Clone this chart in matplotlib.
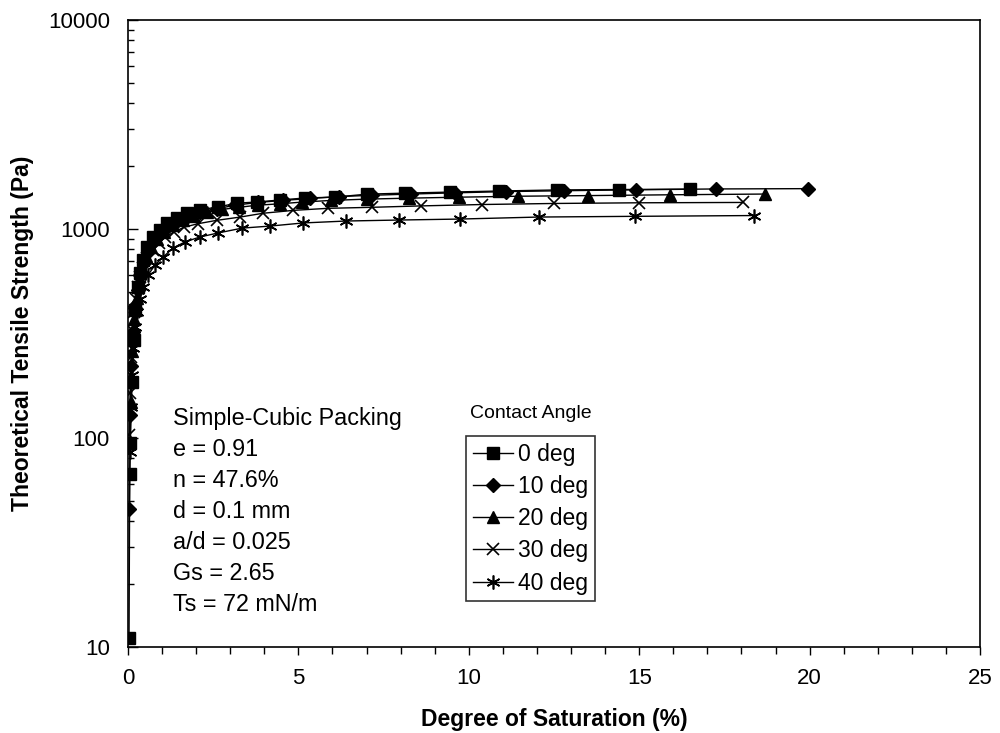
import matplotlib
matplotlib.use('Agg')
import matplotlib.pyplot as plt
from matplotlib.ticker import MultipleLocator, LogLocator, NullFormatter, FixedLocator

plt.rcParams['font.family'] = ['Liberation Sans', 'DejaVu Sans']

# Degree of saturation (%) vs theoretical tensile strength (Pa)
sat_0 = [0.03, 0.05, 0.07, 0.12, 0.17, 0.22, 0.28, 0.35, 0.44, 0.56,
         0.73, 0.94, 1.14, 1.44, 1.73, 2.11, 2.64, 3.2, 3.78, 4.46,
         5.19, 6.07, 7.01, 8.13, 9.45, 10.9, 12.6, 14.4, 16.5]
ts_0 = [11, 67, 95, 185, 294, 410, 527, 616, 711, 820,
        916, 989, 1069, 1130, 1194, 1236, 1275, 1330, 1346, 1377,
        1407, 1421, 1468, 1485, 1502, 1520, 1538, 1545, 1552]

sat_10 = [0.04, 0.07, 0.1, 0.15, 0.21, 0.28, 0.36, 0.46, 0.58, 0.73,
          0.92, 1.15, 1.42, 1.75, 2.12, 2.6, 3.15, 3.8, 4.55, 5.35,
          6.2, 7.15, 8.3, 9.6, 11.1, 12.8, 14.9, 17.25, 19.95]
ts_10 = [46, 129, 220, 320, 420, 510, 600, 690, 780, 870,
         950, 1020, 1090, 1150, 1200, 1250, 1300, 1340, 1370, 1400,
         1430, 1450, 1470, 1490, 1510, 1525, 1540, 1555, 1560]

sat_20 = [0.08, 0.12, 0.18, 0.25, 0.33, 0.42, 0.54, 0.68, 0.86, 1.07,
          1.33, 1.62, 1.95, 2.32, 2.75, 3.25, 3.8, 4.45, 5.1, 5.95,
          7.0, 8.25, 9.7, 11.45, 13.5, 15.9, 18.7]
ts_20 = [149, 260, 370, 470, 560, 650, 740, 820, 900, 970,
         1040, 1100, 1160, 1200, 1240, 1270, 1300, 1320, 1345, 1370,
         1390, 1405, 1420, 1435, 1445, 1458, 1470]

sat_30 = [0.04, 0.06, 0.09, 0.13, 0.18, 0.24, 0.3, 0.36, 0.44, 0.56,
          0.72, 0.9, 1.1, 1.35, 1.65, 2.05, 2.6, 3.28, 3.97, 4.85,
          5.87, 7.15, 8.6, 10.4, 12.5, 15.0, 18.05]
ts_30 = [103, 164, 244, 330, 400, 460, 527, 589, 651, 727,
         794, 857, 916, 970, 1020, 1060, 1100, 1140, 1190, 1228,
         1256, 1270, 1290, 1310, 1325, 1335, 1340]

sat_40 = [0.05, 0.08, 0.12, 0.16, 0.21, 0.27, 0.34, 0.44, 0.59, 0.79,
          1.03, 1.32, 1.67, 2.11, 2.64, 3.35, 4.17, 5.14, 6.4, 7.95,
          9.74, 12.06, 14.88, 18.37]
ts_40 = [86, 140, 200, 270, 340, 400, 460, 527, 603, 672,
         734, 811, 867, 916, 957, 1010, 1033, 1069, 1092, 1104,
         1116, 1141, 1150, 1160]

labels = ['0 deg', '10 deg', '20 deg', '30 deg', '40 deg']
info_lines = ['Simple-Cubic Packing', 'e = 0.91', 'n = 47.6%', 'd = 0.1 mm',
              'a/d = 0.025', 'Gs = 2.65', 'Ts = 72 mN/m']

fig = plt.figure(figsize=(10, 7.33), dpi=100)
ax = fig.add_axes([0.128, 0.1173, 0.852, 0.8554])

series = [(sat_0, ts_0, dict(marker='s', markersize=8.5)),
          (sat_10, ts_10, dict(marker='D', markersize=7)),
          (sat_20, ts_20, dict(marker='^', markersize=9)),
          (sat_30, ts_30, dict(marker='x', markersize=9, markeredgewidth=1.2)),
          (sat_40, ts_40, dict(marker=(6, 2, 0), markersize=10, markeredgewidth=1.2))]

for (x, y, style), lab in zip(series, labels):
    ax.plot(x, y, color='black', linewidth=1.0, markerfacecolor='black',
            markeredgecolor='black', label=lab, **style)

ax.set_yscale('log')
ax.set_xlim(0, 25)
ax.set_ylim(10, 10000)

ax.xaxis.set_major_locator(MultipleLocator(5))
ax.xaxis.set_minor_locator(MultipleLocator(1))
ax.yaxis.set_major_locator(FixedLocator([10, 100, 1000, 10000]))
ax.yaxis.set_minor_locator(LogLocator(base=10, subs=range(2, 10)))
ax.yaxis.set_minor_formatter(NullFormatter())
ax.set_yticklabels(['10', '100', '1000', '10000'])

ax.tick_params(axis='x', which='major', direction='out', length=6, labelsize=16,
               width=1, pad=9)
ax.tick_params(axis='x', which='minor', direction='out', length=5, width=1)
ax.tick_params(axis='y', which='major', direction='in', length=7, labelsize=16,
               width=1, pad=13)
ax.tick_params(axis='y', which='minor', direction='in', length=4, width=1)

for s in ax.spines.values():
    s.set_linewidth(1.2)

ax.set_xlabel('Degree of Saturation (%)', fontsize=16.5, fontweight='bold', labelpad=14)
ax.set_ylabel('Theoretical Tensile Strength (Pa)', fontsize=16.5, fontweight='bold', labelpad=10)

# info block
for i, line in enumerate(info_lines):
    ax.text(0.053, (647 - 418 - 31 * i) / 627, line, transform=ax.transAxes,
            fontsize=16.8, va='center', ha='left')

ax.text(0.401, (647 - 413) / 627, 'Contact Angle', transform=ax.transAxes,
        fontsize=14, va='center', ha='left')

leg = ax.legend(loc='upper left', bbox_to_anchor=(0.397, 0.3365), fontsize=16.5,
                frameon=True, fancybox=False, handlelength=1.75, handletextpad=0.2,
                borderpad=0.3, labelspacing=0.4, borderaxespad=0)
leg.get_frame().set_edgecolor('black')
leg.get_frame().set_linewidth(1.2)

fig.savefig('out.png', dpi=100)
